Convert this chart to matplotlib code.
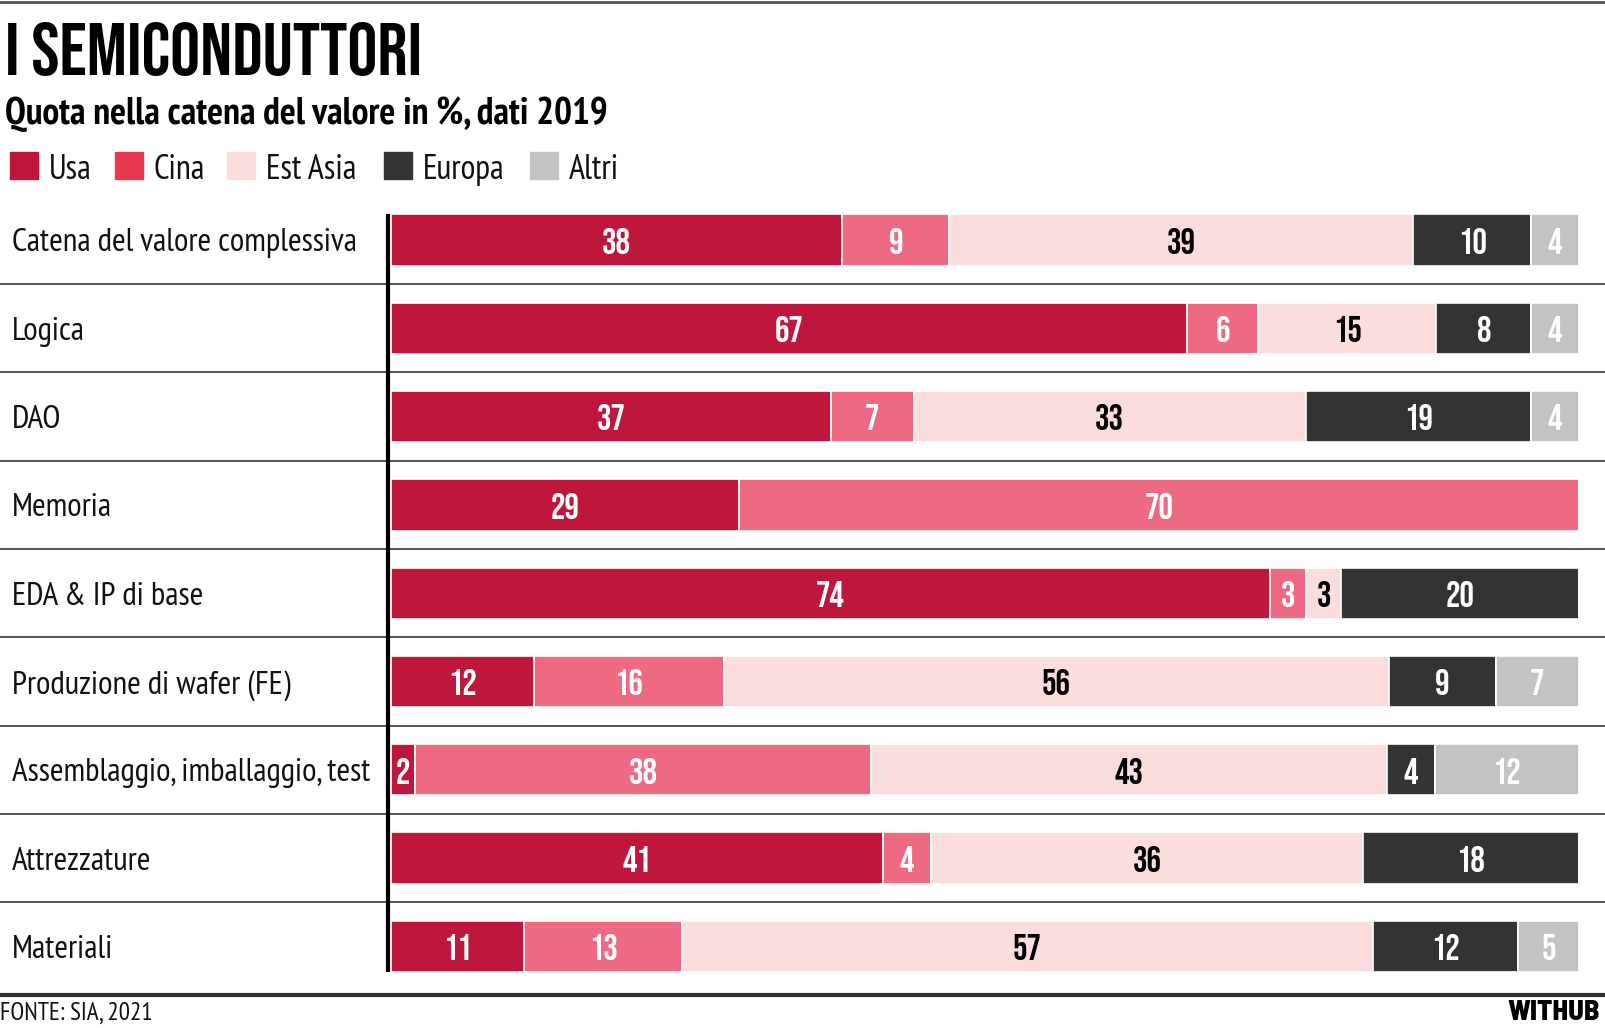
import matplotlib.pyplot as plt
import matplotlib.transforms as mtransforms
from matplotlib.patches import Rectangle
import numpy as np

# data
categories = [
    "Catena del valore complessiva",
    "Logica",
    "DAO",
    "Memoria",
    "EDA & IP di base",
    "Produzione di wafer (FE)",
    "Assemblaggio, imballaggio, test",
    "Attrezzature",
    "Materiali",
]
regions = ["Usa", "Cina", "Est Asia", "Europa", "Altri"]
usa = [38, 67, 37, 29, 74, 12, 2, 41, 11]
cina = [9, 6, 7, 70, 3, 16, 38, 4, 13]
est_asia = [39, 15, 33, 0, 3, 56, 43, 36, 57]
europa = [10, 8, 19, 0, 20, 9, 4, 18, 12]
altri = [4, 4, 4, 0, 0, 7, 12, 0, 5]

bar_colors = ["#BE173B", "#EE6A82", "#FADDDC", "#333333", "#C4C2C3"]
legend_colors = ["#BE173B", "#E8384F", "#FADDDC", "#333333", "#C4C2C3"]
label_colors = ["white", "white", "black", "white", "white"]

NARROW = ["PT Sans Narrow", "Archivo Narrow", "Barlow Semi Condensed", "DejaVu Sans"]
DISPLAY = ["Bebas Neue", "Oswald", "Barlow Condensed", "DejaVu Sans"]
HEAVY = ["Barlow Semi Condensed", "Barlow Condensed", "DejaVu Sans"]

W, H = 1606, 1028
fig = plt.figure(figsize=(W / 100, H / 100), dpi=100)


def fx(px):
    return px / W


def fy(py):
    return 1 - py / H


# bar area: x 391..1579 px, rows centred at 240 + 88.3*i
row_h = 88.3
top = 240 - row_h / 2
bottom = top + row_h * len(categories)
ax = fig.add_axes([fx(391), fy(bottom), fx(1579) - fx(391), (bottom - top) / H])
ax.set_xlim(0, 100)
ax.set_ylim(len(categories) - 0.5, -0.5)
ax.axis("off")

series = np.array([usa, cina, est_asia, europa, altri], dtype=float)
totals = series.sum(axis=0)
shares = series / totals * 100
y = np.arange(len(categories))
left = np.zeros(len(categories))
for k in range(len(regions)):
    ax.barh(y, shares[k], left=left, height=0.58, color=bar_colors[k],
            edgecolor="white", linewidth=1.2)
    for i in range(len(categories)):
        v = series[k, i]
        if v > 0:
            ax.text(left[i] + shares[k, i] / 2, i + 0.01, f"{int(v)}", ha="center",
                    va="center_baseline", color=label_colors[k], fontsize=26,
                    family=DISPLAY)
    left += shares[k]

# row labels and separators across the full width
blend = mtransforms.blended_transform_factory(fig.transFigure, ax.transData)
for i, cat in enumerate(categories):
    ax.text(fx(12), i, cat, transform=blend, ha="left", va="center_baseline",
            fontsize=23.8, color="#111111", family=NARROW)
for i in range(len(categories) - 1):
    ax.plot([0, 1], [i + 0.5, i + 0.5], transform=blend, color="#555555",
            lw=1.4, clip_on=False)

# vertical axis line
ax.plot([-0.25, -0.25], [-0.29, len(categories) - 1 + 0.29], color="black",
        lw=3, clip_on=False, solid_capstyle="butt")

# top and bottom rules
fig.add_artist(plt.Line2D([0, 1], [fy(2), fy(2)], color="#555555", lw=2))
fig.add_artist(plt.Line2D([0, 1], [fy(995), fy(995)], color="#333333", lw=3))

# title & subtitle
fig.text(fx(5), fy(75), "I SEMICONDUTTORI", ha="left", va="baseline",
         fontsize=54, family=DISPLAY, color="black")
fig.text(fx(5), fy(124), "Quota nella catena del valore in %, dati 2019",
         ha="left", va="baseline", fontsize=27, fontweight="bold", family=NARROW,
         color="black")

# legend
legend_x = [10, 115, 227, 384, 530]
for name, col, lx in zip(regions, legend_colors, legend_x):
    fig.add_artist(Rectangle((fx(lx), fy(179)), 28 / W, 27 / H, color=col,
                             transform=fig.transFigure))
    fig.text(fx(lx + 39), fy(179), name, ha="left", va="baseline", fontsize=24.5,
             family=NARROW, color="#111111")

# footer
fig.text(fx(0), fy(1020), "FONTE: SIA, 2021", ha="left", va="baseline",
         fontsize=18, family=NARROW, color="#111111")
fig.text(fx(1600), fy(1020), "WITHUB", ha="right", va="baseline",
         fontsize=20.5, fontweight="heavy", family=HEAVY, color="black")

fig.savefig("out.png", dpi=100)
